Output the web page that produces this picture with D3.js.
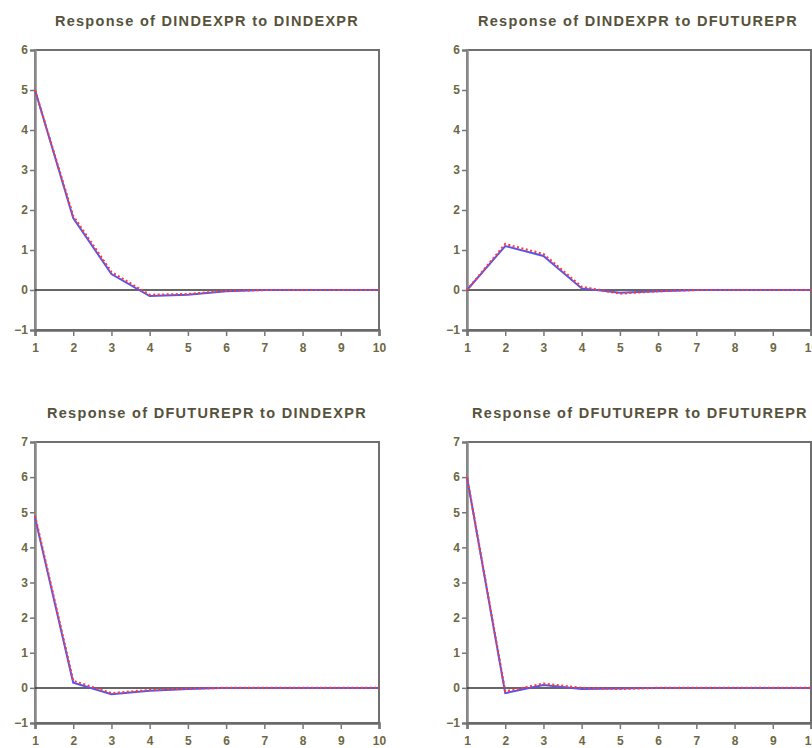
<!DOCTYPE html>
<html>
<head>
<meta charset="utf-8">
<script src="https://cdn.jsdelivr.net/npm/d3@7"></script>
<style>
  html, body { margin: 0; padding: 0; background: #fff; }
  svg { display: block; }
</style>
</head>
<body>
<svg id="chart" width="812" height="748"></svg>
<script>
// ---- data ----
const periods = [1, 2, 3, 4, 5, 6, 7, 8, 9, 10];
const titles = [
  "Response of DINDEXPR to DINDEXPR",
  "Response of DINDEXPR to DFUTUREPR",
  "Response of DFUTUREPR to DINDEXPR",
  "Response of DFUTUREPR to DFUTUREPR"
];
const blueIdxIdx = [5.0, 1.8, 0.4, -0.15, -0.12, -0.03, 0, 0, 0, 0];
const redIdxIdx  = [5.0, 1.85, 0.45, -0.12, -0.1, -0.02, 0, 0, 0, 0];
const blueIdxFut = [0, 1.1, 0.85, 0.04, -0.07, -0.03, 0, 0, 0, 0];
const redIdxFut  = [0, 1.15, 0.9, 0.08, -0.09, -0.03, 0, 0, 0, 0];
const blueFutIdx = [4.85, 0.15, -0.18, -0.08, -0.03, 0, 0, 0, 0, 0];
const redFutIdx  = [4.9, 0.2, -0.15, -0.06, -0.02, 0, 0, 0, 0, 0];
const blueFutFut = [6.0, -0.15, 0.08, -0.03, -0.02, 0, 0, 0, 0, 0];
const redFutFut  = [6.0, -0.1, 0.12, 0.0, -0.03, 0, 0, 0, 0, 0];
const yTicksTop = [-1, 0, 1, 2, 3, 4, 5, 6];
const yTicksBottom = [-1, 0, 1, 2, 3, 4, 5, 6, 7];
const xTickLabels = ["1", "2", "3", "4", "5", "6", "7", "8", "9", "10"];

// ---- layout ----
const panels = [
  { title: titles[0], blue: blueIdxIdx, red: redIdxIdx, yTicks: yTicksTop,    x0: 35,  x1: 379, y0: 330, y1: 50,  titleX: 207, titleY: 26 },
  { title: titles[1], blue: blueIdxFut, red: redIdxFut, yTicks: yTicksTop,    x0: 467, x1: 811, y0: 330, y1: 50,  titleX: 638, titleY: 26 },
  { title: titles[2], blue: blueFutIdx, red: redFutIdx, yTicks: yTicksBottom, x0: 35,  x1: 379, y0: 723, y1: 442, titleX: 207, titleY: 418 },
  { title: titles[3], blue: blueFutFut, red: redFutFut, yTicks: yTicksBottom, x0: 467, x1: 811, y0: 723, y1: 442, titleX: 640, titleY: 418 }
];

const svg = d3.select("#chart");
const textColor = "#56523b";
const tickColor = "#6e6743";
const font = "'Liberation Sans', Arial, sans-serif";

panels.forEach(p => {
  const x = d3.scaleLinear().domain([periods[0], periods[periods.length - 1]]).range([p.x0, p.x1]);
  const y = d3.scaleLinear().domain([p.yTicks[0], p.yTicks[p.yTicks.length - 1]]).range([p.y0, p.y1]);
  const g = svg.append("g");

  // title
  g.append("text")
    .attr("x", p.titleX).attr("y", p.titleY)
    .attr("text-anchor", "middle")
    .attr("font-family", font).attr("font-size", 14.5).attr("font-weight", "bold")
    .attr("fill", textColor)
    .attr("letter-spacing", 1.3)
    .text(p.title);

  // frame
  g.append("rect")
    .attr("x", p.x0).attr("y", p.y1)
    .attr("width", p.x1 - p.x0).attr("height", p.y0 - p.y1)
    .attr("fill", "none").attr("stroke", "#6f6f6f").attr("stroke-width", 2);

  // y axis
  const yAxis = d3.axisLeft(y).tickValues(p.yTicks).tickSize(5).tickPadding(2).tickFormat(d3.format("d"));
  const ya = g.append("g").attr("transform", `translate(${p.x0},0)`).call(yAxis);
  ya.select(".domain").attr("stroke", "#8a8a8a").attr("stroke-width", 2.5);
  ya.selectAll(".tick line").attr("stroke", "#777").attr("stroke-width", 1.5);
  ya.selectAll(".tick text").attr("fill", tickColor).attr("font-family", font)
    .attr("font-size", 12).attr("font-weight", "bold");

  // x axis
  const xAxis = d3.axisBottom(x).tickValues(periods).tickSize(6).tickPadding(7)
    .tickFormat((d, i) => xTickLabels[i]);
  const xa = g.append("g").attr("transform", `translate(0,${p.y0})`).call(xAxis);
  xa.select(".domain").attr("stroke", "#6a6a6a").attr("stroke-width", 2.5);
  xa.selectAll(".tick line").attr("stroke", "#777").attr("stroke-width", 1.5);
  xa.selectAll(".tick text").attr("fill", tickColor).attr("font-family", font)
    .attr("font-size", 12).attr("font-weight", "bold");

  // zero line
  g.append("line")
    .attr("x1", p.x0).attr("x2", p.x1)
    .attr("y1", y(0)).attr("y2", y(0))
    .attr("stroke", "#333").attr("stroke-width", 1.5);

  const line = d3.line().x((d, i) => x(periods[i])).y(d => y(d));

  g.append("path").datum(p.blue)
    .attr("d", line).attr("fill", "none")
    .attr("stroke", "#5555f2").attr("stroke-width", 2);

  g.append("path").datum(p.red)
    .attr("d", line).attr("fill", "none")
    .attr("stroke", "#ff3a3a").attr("stroke-width", 2.2)
    .attr("stroke-dasharray", "2,2.5");
});
</script>
</body>
</html>
